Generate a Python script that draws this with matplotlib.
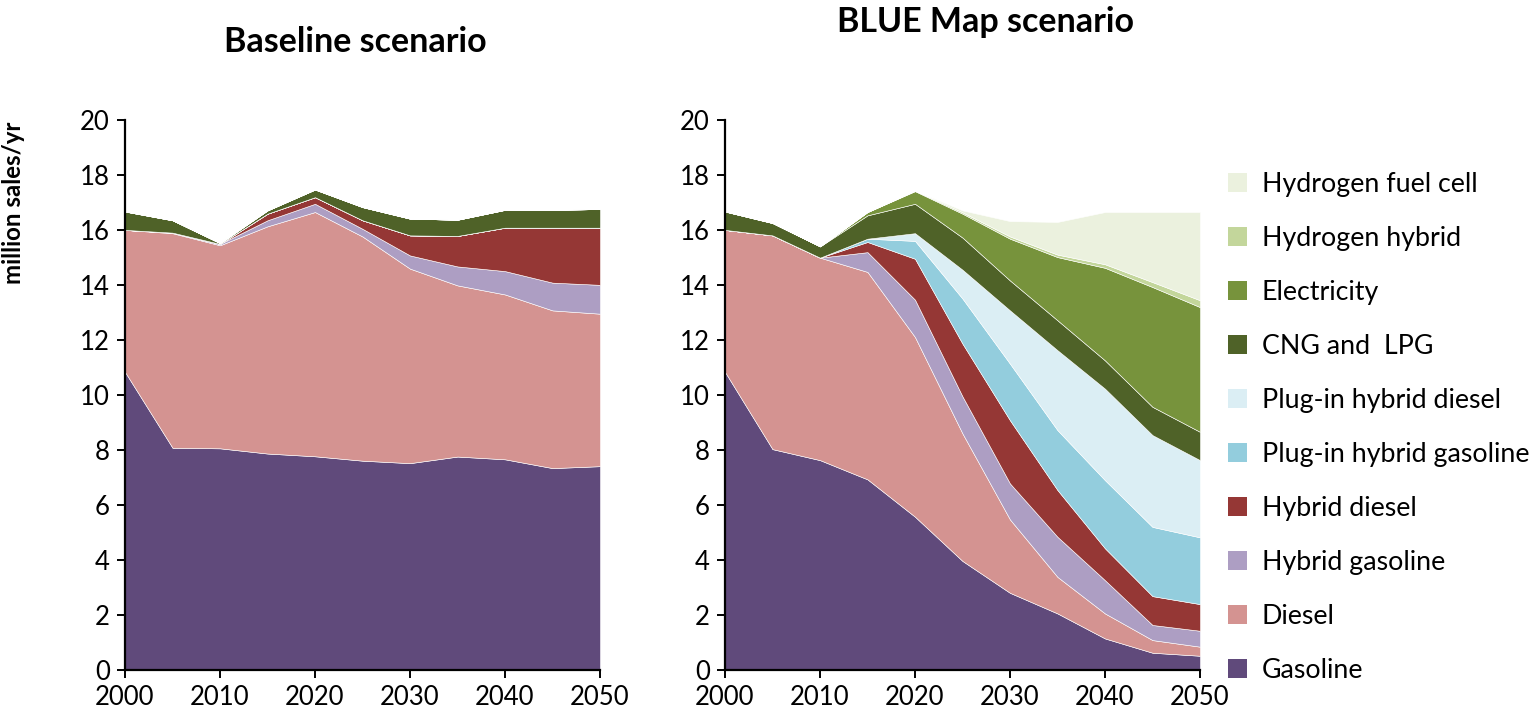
#!/usr/bin/env python
import sys
import numpy as np
import matplotlib
matplotlib.use('Agg')
import matplotlib.pyplot as plt
from matplotlib.patches import Patch

years = [2000, 2005, 2010, 2015, 2020, 2025, 2030, 2035, 2040, 2045, 2050]

labels = ["Gasoline", "Diesel", "Hybrid gasoline", "Hybrid diesel",
          "Plug-in hybrid gasoline", "Plug-in hybrid diesel", "CNG and  LPG",
          "Electricity", "Hydrogen hybrid", "Hydrogen fuel cell"]

# baseline scenario (million sales/yr)
base_gasoline = [10.83, 8.07, 8.05, 7.86, 7.76, 7.60, 7.51, 7.75, 7.65, 7.33, 7.40]
base_diesel = [5.17, 7.81, 7.39, 8.27, 8.89, 8.16, 7.08, 6.23, 6.00, 5.74, 5.55]
base_hyb_gas = [0.0, 0.02, 0.05, 0.22, 0.30, 0.28, 0.48, 0.69, 0.85, 1.01, 1.05]
base_hyb_dsl = [0.0, 0.0, 0.0, 0.24, 0.24, 0.31, 0.73, 1.11, 1.58, 2.00, 2.08]
base_phev_gas = [0.0] * 11
base_phev_dsl = [0.0] * 11
base_cng = [0.67, 0.45, 0.03, 0.12, 0.28, 0.48, 0.61, 0.59, 0.65, 0.65, 0.68]
base_elec = [0.0] * 11
base_h2_hyb = [0.0] * 11
base_h2_fc = [0.0] * 11

# BLUE Map scenario (million sales/yr)
blue_gasoline = [10.83, 8.02, 7.62, 6.92, 5.56, 3.95, 2.79, 2.04, 1.13, 0.61, 0.50]
blue_diesel = [5.17, 7.78, 7.37, 7.55, 6.54, 4.64, 2.67, 1.33, 0.91, 0.46, 0.33]
blue_hyb_gas = [0.0, 0.0, 0.0, 0.72, 1.36, 1.35, 1.31, 1.46, 1.21, 0.55, 0.58]
blue_hyb_dsl = [0.0, 0.0, 0.0, 0.37, 1.49, 1.92, 2.30, 1.70, 1.16, 1.05, 0.97]
blue_phev_gas = [0.0, 0.0, 0.0, 0.12, 0.65, 1.64, 2.06, 2.18, 2.48, 2.52, 2.43]
blue_phev_dsl = [0.0, 0.0, 0.0, 0.0, 0.28, 1.05, 1.94, 2.91, 3.33, 3.34, 2.81]
blue_cng = [0.67, 0.45, 0.41, 0.85, 1.07, 1.17, 1.09, 1.09, 1.03, 1.03, 1.03]
blue_elec = [0.0, 0.0, 0.0, 0.12, 0.46, 0.87, 1.52, 2.30, 3.37, 4.36, 4.54]
blue_h2_hyb = [0.0, 0.0, 0.0, 0.0, 0.02, 0.05, 0.08, 0.09, 0.13, 0.18, 0.25]
blue_h2_fc = [0.0, 0.0, 0.0, 0.0, 0.0, 0.07, 0.56, 1.19, 1.90, 2.55, 3.21]

colors = ['#604a7b', '#d49391', '#ad9ec3', '#953735', '#93cddd',
          '#dbeef4', '#4f6228', '#77933c', '#c3d69b', '#ebf1de']

FONT = 'Lato'


def setup_axis(ax):
    ax.set_xlim(2000, 2050)
    ax.set_ylim(0, 20)
    ax.set_xticks(range(2000, 2051, 10))
    ax.set_yticks(range(0, 21, 2))
    for side in ('top', 'right'):
        ax.spines[side].set_visible(False)
    for side in ('left', 'bottom'):
        ax.spines[side].set_linewidth(1.6)
    ax.tick_params(direction='out', length=6, width=1.4, labelsize=18.5, pad=5)
    for lbl in ax.get_xticklabels() + ax.get_yticklabels():
        lbl.set_family(FONT)


def create_figure(outfile):
    fig = plt.figure(figsize=(15.34, 7.25), dpi=100)
    W, H = 1534.0, 725.0

    # panel geometry in pixels
    left1, left2, width = 125, 725, 475
    bottom, top = 669.5, 120
    h = bottom - top

    base = [base_gasoline, base_diesel, base_hyb_gas, base_hyb_dsl,
            base_phev_gas, base_phev_dsl, base_cng, base_elec, base_h2_hyb,
            base_h2_fc]
    blue = [blue_gasoline, blue_diesel, blue_hyb_gas, blue_hyb_dsl,
            blue_phev_gas, blue_phev_dsl, blue_cng, blue_elec, blue_h2_hyb,
            blue_h2_fc]

    ax1 = fig.add_axes([left1 / W, (H - bottom) / H, width / W, h / H])
    ax1.stackplot(years, *[np.array(s) for s in base], colors=colors,
                  edgecolor='white', linewidth=0.4)
    setup_axis(ax1)
    ax1.set_ylabel('million sales/yr', fontsize=17.3, fontweight='bold',
                   family=FONT)
    ax1.yaxis.set_label_coords(25 / W, (H - 203) / H, fig.transFigure)
    fig.text(355 / W, 1 - 42 / H, 'Baseline scenario', ha='center',
             va='center', fontsize=24.5, fontweight='bold', family=FONT)

    ax2 = fig.add_axes([left2 / W, (H - bottom) / H, width / W, h / H])
    ax2.stackplot(years, *[np.array(s) for s in blue], colors=colors,
                  edgecolor='white', linewidth=0.4)
    setup_axis(ax2)
    fig.text(985 / W, 1 - 22 / H, 'BLUE Map scenario', ha='center',
             va='center', fontsize=24.5, fontweight='bold', family=FONT)

    handles = [Patch(facecolor=c, edgecolor='none', label=l)
               for c, l in zip(colors, labels)][::-1]
    fig.legend(handles=handles, loc='upper left',
               bbox_to_anchor=(1228 / W, 1 - 172 / H),
               frameon=False, handlelength=0.7, handleheight=0.7,
               handletextpad=0.55, labelspacing=1.08, borderpad=0,
               borderaxespad=0, prop={'family': FONT, 'size': 19.3})

    fig.savefig(outfile, dpi=100)


def main(argv=None):
    create_figure('out.png')


if __name__ == "__main__":
    sys.exit(main())
